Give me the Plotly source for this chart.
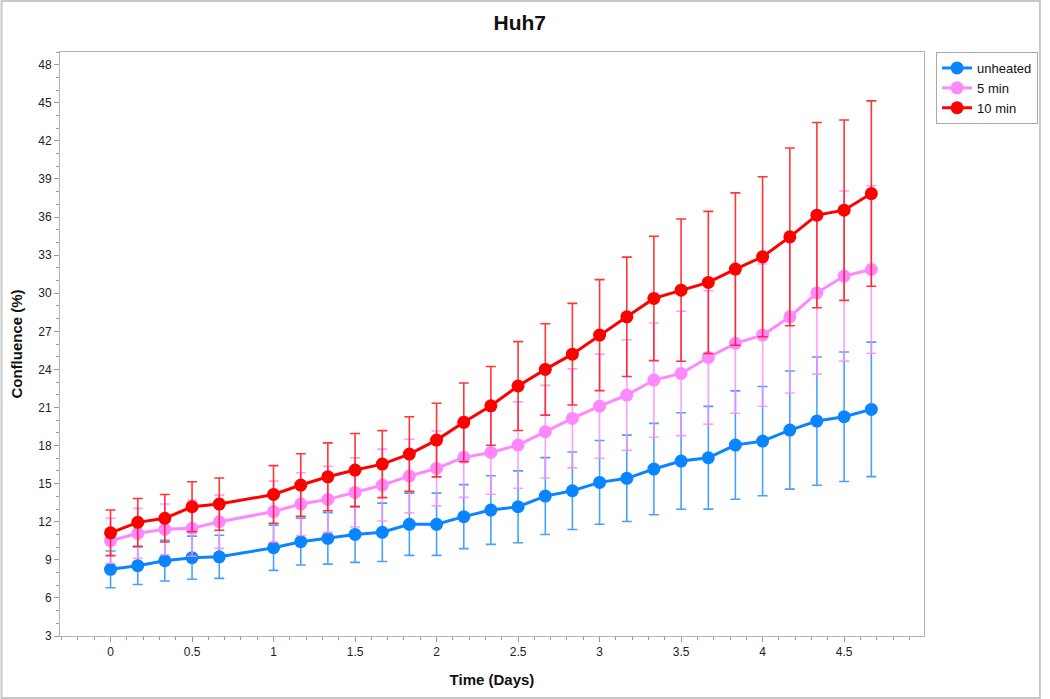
import plotly.graph_objects as go

# time points (days)
days = [0, 0.167, 0.333, 0.5, 0.667, 1, 1.167, 1.333, 1.5, 1.667, 1.833, 2, 2.167, 2.333,
        2.5, 2.667, 2.833, 3, 3.167, 3.333, 3.5, 3.667, 3.833, 4, 4.167, 4.333, 4.5, 4.667]

unheated = [8.25, 8.54, 8.93, 9.17, 9.24, 9.95, 10.43, 10.69, 11.0, 11.17, 11.8, 11.8, 12.4, 12.92,
            13.18, 14.02, 14.44, 15.1, 15.42, 16.15, 16.78, 17.04, 18.04, 18.35, 19.22, 19.93, 20.27, 20.85]
unheated_sd = [1.45, 1.48, 1.6, 1.7, 1.7, 1.78, 1.84, 2.03, 2.2, 2.3, 2.45, 2.45, 2.52, 2.7,
               2.83, 3.03, 3.05, 3.3, 3.4, 3.6, 3.8, 4.05, 4.27, 4.3, 4.65, 5.05, 5.1, 5.3]

min5 = [10.5, 11.09, 11.4, 11.48, 12.0, 12.8, 13.39, 13.76, 14.31, 14.89, 15.6, 16.2, 17.07, 17.46,
        18.04, 19.09, 20.14, 21.1, 21.98, 23.16, 23.68, 24.94, 26.05, 26.7, 28.14, 30.03, 31.35, 31.87]
min5_sd = [1.77, 1.96, 2.0, 2.2, 2.1, 2.4, 2.47, 2.6, 2.72, 2.83, 2.9, 2.95, 3.15, 3.3,
           3.4, 3.65, 3.9, 4.1, 4.35, 4.5, 4.9, 5.25, 5.5, 5.6, 6.0, 6.4, 6.7, 6.6]

min10 = [11.13, 11.95, 12.27, 13.18, 13.39, 14.15, 14.89, 15.54, 16.07, 16.54, 17.33, 18.43, 19.83, 21.13,
         22.69, 24.0, 25.2, 26.7, 28.14, 29.59, 30.24, 30.85, 31.9, 32.87, 34.44, 36.15, 36.54, 37.85]
min10_sd = [1.8, 1.88, 1.87, 1.97, 2.06, 2.27, 2.47, 2.67, 2.88, 2.64, 2.94, 2.9, 3.1, 3.1,
            3.5, 3.6, 4.0, 4.37, 4.7, 4.9, 5.6, 5.6, 6.0, 6.3, 7.0, 7.3, 7.1, 7.3]

series = [
    ("unheated", unheated, unheated_sd, "#0A84FF", "rgba(40,145,255,0.85)"),
    ("5 min", min5, min5_sd, "#FF88FF", "rgba(255,140,255,0.85)"),
    ("10 min", min10, min10_sd, "#FF0000", "rgba(255,20,20,0.85)"),
]

FONT = "Liberation Sans, Arial, sans-serif"

fig = go.Figure()
for name, vals, sd, col, ecol in series:
    fig.add_trace(go.Scatter(
        x=days, y=vals, name=name, mode="lines+markers",
        line=dict(color=col, width=3),
        marker=dict(color=col, size=13),
        error_y=dict(type="data", array=sd, visible=True, color=ecol, thickness=1.6, width=5),
    ))

axis_common = dict(
    showgrid=False, zeroline=False, showline=True, linecolor="#B4B4B4", linewidth=1,
    mirror=True, ticks="outside", ticklen=5, tickcolor="#9A9A9A", automargin=False,
    tickfont=dict(family=FONT, size=12, color="#222222"),
)

fig.update_layout(
    width=1050, height=699, autosize=False,
    paper_bgcolor="white", plot_bgcolor="white",
    margin=dict(l=60, r=118, t=52, b=63),
    title=dict(text="Huh7", x=0.495, xanchor="center", y=0.968, yanchor="middle",
               yref="container", automargin=False,
               font=dict(family=FONT, size=21, color="#111111", weight="bold")),
    xaxis=dict(axis_common, range=[-0.31, 4.99], tick0=0, dtick=0.5,
               minor=dict(dtick=0.1, ticks="outside", ticklen=3, tickcolor="#9A9A9A"),
               title=dict(text="Time (Days)", standoff=16,
                          font=dict(family=FONT, size=15, color="#111111", weight="bold"))),
    yaxis=dict(axis_common, range=[3, 49], tick0=3, dtick=3,
               minor=dict(dtick=1, ticks="outside", ticklen=3, tickcolor="#9A9A9A"),
               title=dict(text="Confluence (%)", standoff=11,
                          font=dict(family=FONT, size=15, color="#111111", weight="bold"))),
    legend=dict(x=1.014, y=1.0, xanchor="left", yanchor="top",
                bordercolor="#A8A8A8", borderwidth=1, bgcolor="white",
                font=dict(family=FONT, size=13, color="#111111"),
                itemwidth=30, tracegroupgap=0),
    showlegend=True,
)

# light frame around the whole chart
fig.add_shape(type="rect", xref="paper", yref="paper",
              x0=-59 / 872, x1=(1050 - 60 - 1) / 872, y0=-62 / 584, y1=(699 - 63 - 1) / 584,
              line=dict(color="#C8C8C8", width=2), fillcolor="rgba(0,0,0,0)", layer="below")

# drop the default page margin so the figure sits at the window origin
fig.write_html(
    "out.html",
    config={"displayModeBar": False, "responsive": False},
    post_script="document.body.style.margin='0px';"
                "document.documentElement.style.overflow='hidden';",
)
